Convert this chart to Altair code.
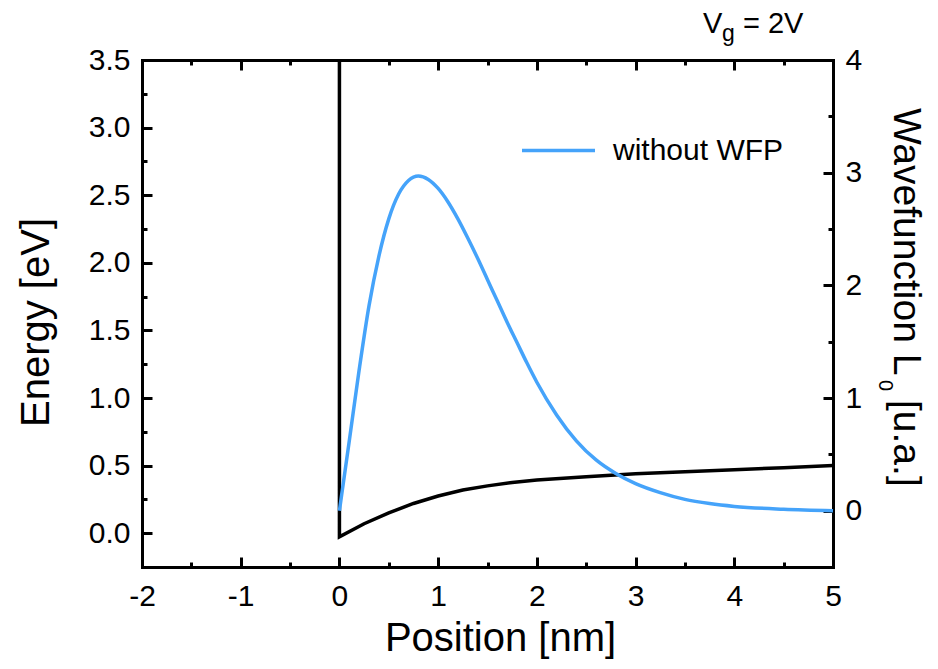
import altair as alt
import pandas as pd

FONT = "Liberation Sans"
BLUE = "#45A3FA"

# ---- data ----
energy_x = [0, 0, 0.25, 0.5, 0.75, 1.0, 1.25, 1.5, 1.75, 2.0, 2.5, 3.0, 3.5, 4.0, 4.5, 5.0]
energy_y = [3.5, -0.027, 0.07, 0.15, 0.22, 0.275, 0.32, 0.35, 0.375, 0.393, 0.418, 0.44, 0.455, 0.47, 0.485, 0.5]

wave_x = [0.0, 0.1, 0.2, 0.3, 0.4, 0.5, 0.6, 0.7, 0.8, 0.9, 1.0, 1.1, 1.2, 1.3, 1.4, 1.5,
          1.6, 1.7, 1.8, 1.9, 2.0, 2.2, 2.4, 2.6, 2.8, 3.0, 3.25, 3.5, 3.75, 4.0, 4.5, 5.0]
wave_y = [0.0, 0.62, 1.25, 1.82, 2.26, 2.59, 2.81, 2.93, 2.97, 2.94, 2.86, 2.74, 2.59, 2.42, 2.24, 2.05,
          1.86, 1.67, 1.49, 1.31, 1.14, 0.85, 0.62, 0.45, 0.33, 0.24, 0.16, 0.10, 0.063, 0.038, 0.013, 0.0]
series_name = ["without WFP"]

x_major = [-2, -1, 0, 1, 2, 3, 4, 5]
x_minor = [-1.5, -0.5, 0.5, 1.5, 2.5, 3.5, 4.5]
e_major = [0.0, 0.5, 1.0, 1.5, 2.0, 2.5, 3.0, 3.5]
e_minor = [0.25, 0.75, 1.25, 1.75, 2.25, 2.75, 3.25]
w_major = [0, 1, 2, 3, 4]
w_minor = [0.5, 1.5, 2.5, 3.5]

x_domain = [-2, 5]
e_domain = [-0.25, 3.5]
w_domain = [-0.5, 4]

title_parts = ["V", "g", "= 2V"]
right_title_parts = ["Wavefunction L", "0", "[u.a.]"]

# ---- tables ----
df_e = pd.DataFrame({"x": energy_x, "e": energy_y, "i": list(range(len(energy_x)))})
df_w = pd.DataFrame({"x": wave_x, "w": wave_y, "s": series_name * len(wave_x)})
df_dummy = pd.DataFrame({"x": [0], "y": [0]})

xs = alt.Scale(domain=x_domain, nice=False, zero=False)
es = alt.Scale(domain=e_domain, nice=False, zero=False)
ws = alt.Scale(domain=w_domain, nice=False, zero=False)

common = dict(grid=False, labelFont=FONT, labelFontSize=30, labelColor="black",
              labelFlush=False, labelOverlap=False,
              domainColor="black", domainWidth=3, domainCap="square",
              tickColor="black", tickWidth=3, titleFont=FONT, titleColor="black",
              titleFontWeight="normal")

energy = alt.Chart(df_e).mark_line(color="black", strokeWidth=3.5).encode(
    x=alt.X("x:Q", scale=xs, axis=alt.Axis(
        orient="bottom", values=x_major, ticks=False, tickSize=0, labelPadding=38,
        labelBaseline="alphabetic", labelExpr="'' + datum.value",
        title="Position [nm]", titleFontSize=40, titleX=358, titleY=83,
        titleAlign="center", titleBaseline="alphabetic", **common)),
    y=alt.Y("e:Q", scale=es, axis=alt.Axis(
        orient="left", values=e_major, format=".1f", ticks=False, tickSize=0, labelPadding=12,
        title="Energy [eV]", titleFontSize=40, titleAngle=270, titleX=-94, titleY=262,
        titleAlign="center", titleBaseline="alphabetic", **common)),
    order="i:Q",
)

wave = alt.Chart(df_w).mark_line(strokeWidth=3.5, interpolate="monotone").encode(
    x=alt.X("x:Q", scale=xs, axis=alt.Axis(
        orient="top", labels=False, ticks=False, tickSize=0, title=None, **common)),
    y=alt.Y("w:Q", scale=ws, axis=alt.Axis(
        orient="right", values=w_major, format="d", ticks=False, tickSize=0, labelPadding=12,
        title=None, **common)),
    color=alt.Color("s:N", scale=alt.Scale(range=[BLUE]), legend=alt.Legend(
        orient="none", legendX=378, legendY=52, title=None, symbolType="stroke",
        symbolSize=5329, symbolStrokeWidth=3.5, labelFont=FONT, labelFontSize=30,
        labelColor="black", labelOffset=16, labelLimit=1000, padding=0)),
)


def tick_layer(xvals, yvals, yscale, xorient, yorient, size):
    tick_common = dict(grid=False, labels=False, domain=False, title=None,
                       tickColor="black", tickWidth=3, tickSize=size, offset=-size)
    return alt.Chart(df_dummy).mark_point(opacity=0).encode(
        x=alt.X("x:Q", scale=xs, axis=alt.Axis(orient=xorient, values=xvals, **tick_common)),
        y=alt.Y("y:Q", scale=yscale, axis=alt.Axis(orient=yorient, values=yvals, **tick_common)),
    )


ticks = [
    tick_layer(x_major, e_major, es, "bottom", "left", 10),
    tick_layer(x_minor, e_minor, es, "bottom", "left", 5),
    tick_layer(x_major, w_major, ws, "top", "right", 10),
    tick_layer(x_minor, w_minor, ws, "top", "right", 5),
]


def label(text, x, y, size, angle=0):
    return alt.Chart(pd.DataFrame({"t": [text]})).mark_text(
        font=FONT, fontSize=size, color="black", align="left", baseline="alphabetic",
        angle=angle).encode(x=alt.value(x), y=alt.value(y), text="t:N")


texts = [
    label(title_parts[0], 561, -27, 29),
    label(title_parts[1], 580, -19, 23),
    label(title_parts[2], 601, -27, 29),
    label(right_title_parts[0], 752, 48, 39, 90),
    label(right_title_parts[1], 737, 320, 20, 90),
    label(right_title_parts[2], 752, 340, 39, 90),
]

chart = alt.layer(energy, wave, *ticks, *texts).resolve_scale(
    y="independent"
).resolve_axis(
    x="independent", y="independent"
).properties(
    width=691, height=507,
    autosize=alt.AutoSizeParams(type="none"),
    padding={"left": 134, "top": 52, "right": 96, "bottom": 92},
).configure_view(stroke=None)

chart.save("out.html", embed_options={"renderer": "svg", "actions": False})
